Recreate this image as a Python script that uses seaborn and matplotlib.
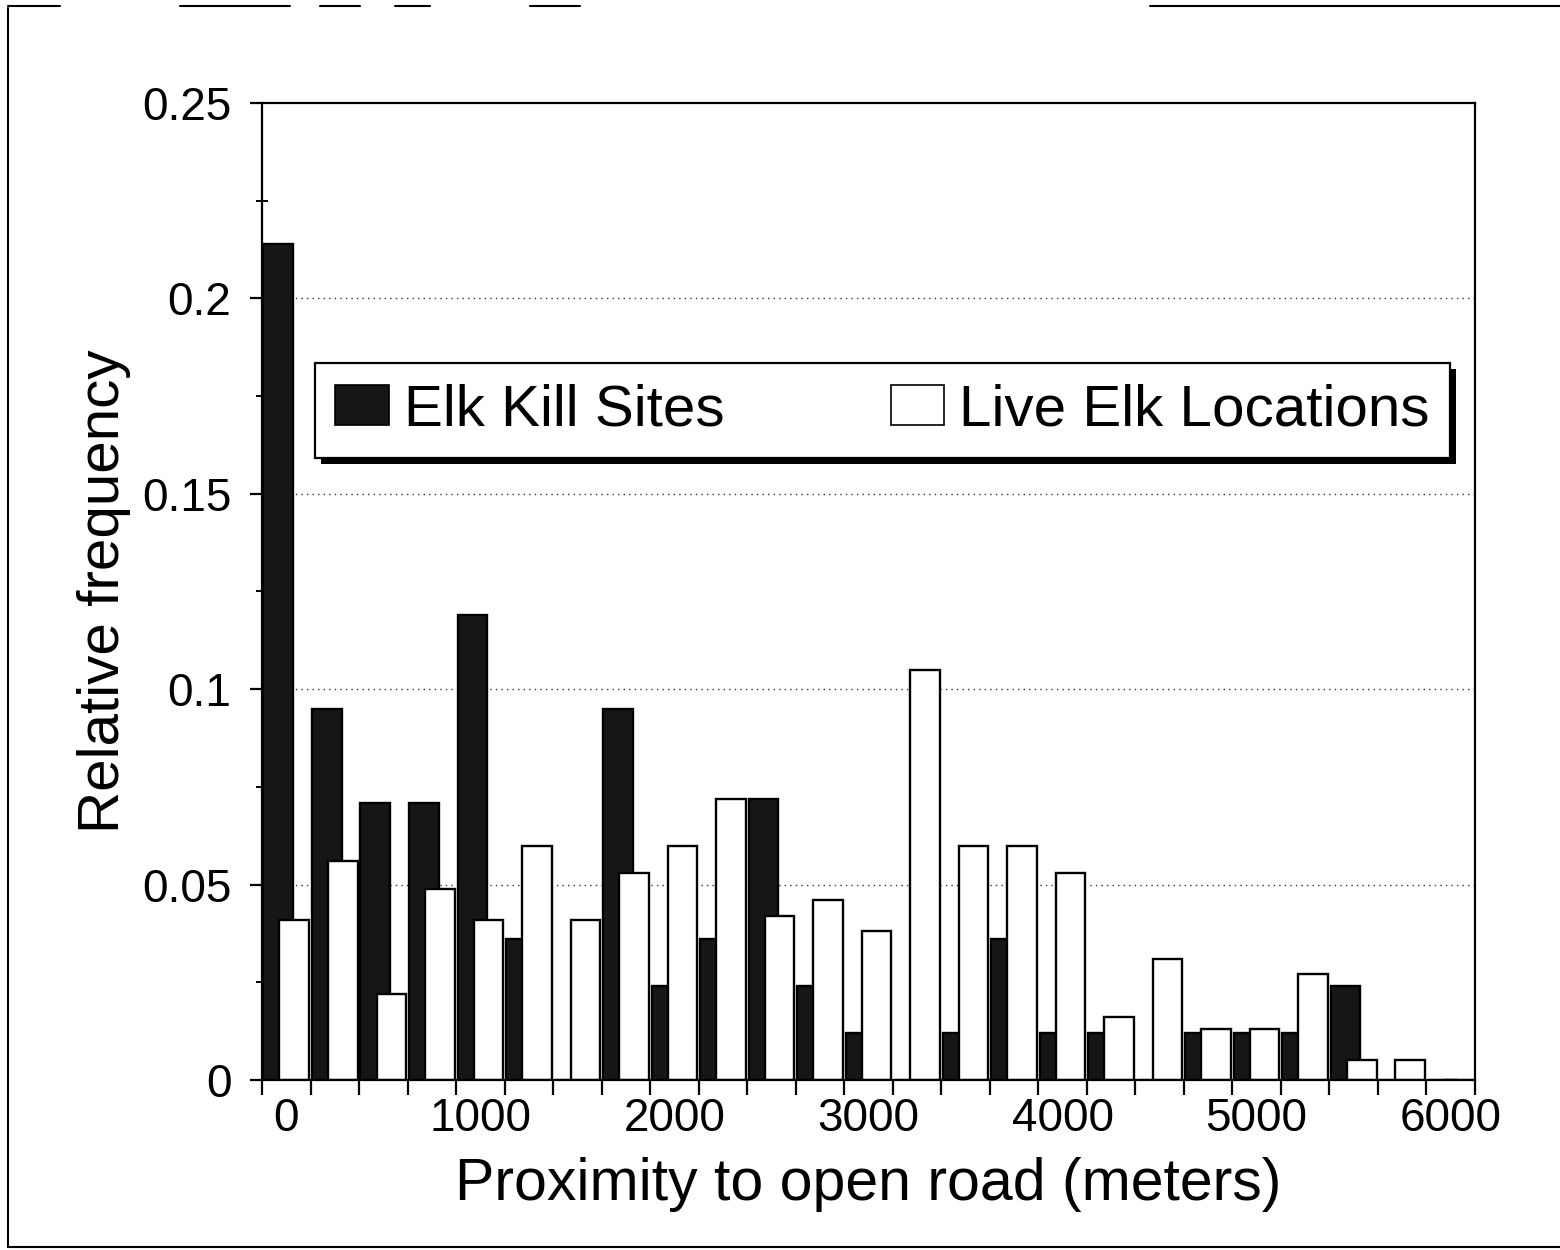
import matplotlib
matplotlib.use("Agg")
import matplotlib.pyplot as plt
import seaborn as sns
import pandas as pd
import numpy as np
from matplotlib.patches import Rectangle, Patch
from matplotlib.transforms import IdentityTransform
from matplotlib.lines import Line2D

# ---------------- data ----------------
distance_bins = [0, 250, 500, 750, 1000, 1250, 1500, 1750, 2000, 2250, 2500, 2750,
                 3000, 3250, 3500, 3750, 4000, 4250, 4500, 4750, 5000, 5250, 5500,
                 5750, 6000]
kill_sites = [0.214, 0.095, 0.071, 0.071, 0.119, 0.036, 0.0, 0.095, 0.024, 0.036,
              0.072, 0.024, 0.012, 0.0, 0.012, 0.036, 0.012, 0.012, 0.0, 0.012,
              0.012, 0.012, 0.024, 0.0, 0.0]
live_locations = [0.041, 0.056, 0.022, 0.049, 0.041, 0.060, 0.041, 0.053, 0.060,
                  0.072, 0.042, 0.046, 0.038, 0.105, 0.060, 0.060, 0.053, 0.016,
                  0.031, 0.013, 0.013, 0.027, 0.005, 0.005, 0.0]
series_names = ["Elk Kill Sites", "Live Elk Locations"]
x_tick_labels = ["0", "1000", "2000", "3000", "4000", "5000", "6000"]
y_ticks = [0, 0.05, 0.1, 0.15, 0.2, 0.25]
y_tick_labels = ["0", "0.05", "0.1", "0.15", "0.2", "0.25"]
x_label = "Proximity to open road (meters)"
y_label = "Relative frequency"

dark = "#161616"
light = "#ffffff"

df = pd.DataFrame({
    "distance": [str(d) for d in distance_bins] * 2,
    "series": [series_names[0]] * len(distance_bins) + [series_names[1]] * len(distance_bins),
    "frequency": kill_sites + live_locations,
})

sns.set_theme(style="white")
plt.rcParams["font.family"] = ["Liberation Sans", "DejaVu Sans"]
plt.rcParams["text.color"] = "black"

fig = plt.figure(figsize=(15.6, 12.5), dpi=100)
ax = fig.add_axes([262 / 1560, 1 - 1080 / 1250, 1213 / 1560, 977 / 1250])

sns.barplot(data=df, x="distance", y="frequency", hue="series",
            order=[str(d) for d in distance_bins], hue_order=series_names,
            palette={series_names[0]: dark, series_names[1]: light},
            dodge=True, width=0.66, saturation=1, errorbar=None,
            legend=False, ax=ax)

# widen bars so that each pair overlaps like the original
bar_w = 0.61
for p in ax.patches:
    cx = p.get_x() + p.get_width() / 2
    p.set_width(bar_w)
    p.set_x(cx - bar_w / 2)
    p.set_edgecolor("black")
    p.set_linewidth(1.7)

ax.set_xlim(-0.5, len(distance_bins) - 0.5)
ax.set_ylim(0, 0.25)

# x ticks: marks at category boundaries, labels every 4th category
ax.set_xticks(np.arange(-0.5, len(distance_bins), 1.0))
ax.set_xticklabels([])
ax.set_xticks(np.arange(0, len(distance_bins), 4), x_tick_labels, minor=True)
ax.tick_params(axis="x", which="major", direction="out", length=11, width=1.6,
               color="black", bottom=True)
ax.tick_params(axis="x", which="minor", length=0, pad=12, labelsize=33,
               labelcolor="black", bottom=True)

# y ticks
ax.set_yticks(y_ticks, y_tick_labels)
ax.set_yticks(np.arange(0.025, 0.25, 0.05), minor=True)
ax.tick_params(axis="y", which="major", direction="out", length=9, width=1.6,
               pad=13, labelsize=33, labelcolor="black", left=True, color="black")
ax.tick_params(axis="y", which="minor", direction="inout", length=8, width=1.4,
               left=True, color="black")

# dotted grid lines
ax.set_axisbelow(True)
for yv in y_ticks[1:-1]:
    ax.axhline(yv, color="#333333", linestyle=(0, (1, 3)), linewidth=1.0, zorder=0)

for s in ax.spines.values():
    s.set_visible(True)
    s.set_color("black")
    s.set_linewidth(1.6)

ax.set_xlabel(x_label, fontsize=42.5, color="black", labelpad=12)
ax.set_ylabel(y_label, fontsize=42, color="black", labelpad=8)

handles = [Patch(facecolor=dark, edgecolor="black", linewidth=1.2),
           Patch(facecolor=light, edgecolor="black", linewidth=1.2)]
leg = ax.legend(handles, series_names, loc="upper left",
                bbox_to_anchor=(0.0437, 0.734), borderaxespad=0, ncol=2,
                fontsize=42, frameon=True, fancybox=False, shadow=False,
                handlelength=0.92, handleheight=0.68, handletextpad=0.25,
                columnspacing=2.85, borderpad=0.35, labelcolor="black")
leg.get_frame().set_edgecolor("black")
leg.get_frame().set_linewidth(1.6)
leg.get_frame().set_facecolor("white")
leg.get_frame().set_alpha(1)
leg.set_zorder(6)

fig.canvas.draw()
bb = leg.get_window_extent()
ax.add_patch(Rectangle((bb.x0 + 6, bb.y0 - 6), bb.width, bb.height,
                       transform=IdentityTransform(), facecolor="black",
                       edgecolor="none", zorder=5.5, clip_on=False))

# outer frame of the scanned figure
W, H = 1560.0, 1250.0
fig.add_artist(Line2D([8 / W, 8 / W], [1 - 8 / H, 1 - 1247 / H], color="black", lw=1.5))
fig.add_artist(Line2D([8 / W, 1.0], [1 - 1247 / H, 1 - 1247 / H], color="black", lw=1.5))
for x0, x1 in [(8, 60), (180, 290), (320, 360), (395, 430), (530, 580), (1150, 1560)]:
    fig.add_artist(Line2D([x0 / W, x1 / W], [1 - 6 / H, 1 - 6 / H], color="black", lw=1.5))

fig.savefig("out.png", dpi=100)
